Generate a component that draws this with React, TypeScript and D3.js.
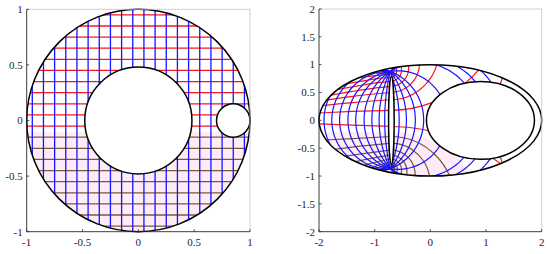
import React from 'react';
import * as d3 from 'd3';

// left panel: grid lines of the circular domain
const gridX = [-0.95, -0.85, -0.75, -0.65, -0.55, -0.45, -0.35, -0.25, -0.15, -0.05, 0.05, 0.15, 0.25, 0.35, 0.45, 0.55, 0.65, 0.75, 0.85, 0.95];
const gridY = [0.95, 0.85, 0.75, 0.65, 0.55, 0.45, 0.35, 0.25, 0.15, 0.05, -0.05, -0.15, -0.25, -0.35, -0.45, -0.55, -0.65, -0.75, -0.85, -0.95];
const splitY = -0.1; // red above, brown + pink below
const outerCircle = { cx: 0, cy: 0, rx: 1, ry: 1 };
const innerCircle = { cx: 0, cy: 0, rx: 0.48, ry: 0.48 };
const smallCircle = { cx: 0.85, cy: 0, rx: 0.15, ry: 0.15 };

// right panel: image domain
const outerEllipse = { cx: 0, cy: 0, rx: 2, ry: 1 };
const holeEllipse = { cx: 0.9, cy: 0, rx: 0.97, ry: 0.7 };
const slitEllipse = { cx: -0.7, cy: 0, rx: 0.05, ry: 0.79 };
const focusX = -0.72;
const focusTop = 0.88;
const focusBottom = -0.87;
// x where each blue curve crosses the line half way between the two foci
const blueCrossings = [-1.91, -1.77, -1.63, -1.48, -1.34, -1.19, -1.05, -0.92, -0.82, -0.56, -0.43, -0.27, -0.12, 0.3, 0.85, 1.05, 1.3];
// y where each red / brown curve meets the right side of the slit
const redCrossings = [-0.11, 0.18, 0.37, 0.5, 0.61, 0.7, 0.77, 0.82, 0.85, 0.87];
const brownCrossings = [-0.29, -0.41, -0.53, -0.62, -0.69, -0.75, -0.79, -0.82, -0.845];
const pinkCrossing = -0.2;
// red / brown curves on the left of the slit, read point by point
const redLeft: [number, number][][] = [
  [[-2.05, -0.06], [-1.4, -0.085], [-0.7, -0.11]],
  [[-2.05, 0.13], [-1.4, 0.16], [-0.7, 0.18]],
  [[-2.0, 0.26], [-1.4, 0.32], [-0.7, 0.37]],
  [[-1.95, 0.35], [-1.4, 0.43], [-0.7, 0.5]],
  [[-1.85, 0.44], [-1.4, 0.52], [-1.0, 0.58], [-0.7, 0.61]],
  [[-1.7, 0.55], [-1.3, 0.62], [-1.0, 0.67], [-0.7, 0.7]],
  [[-1.55, 0.65], [-1.2, 0.71], [-0.95, 0.75], [-0.7, 0.77]],
  [[-1.35, 0.76], [-1.1, 0.79], [-0.9, 0.81], [-0.7, 0.82]],
  [[-1.1, 0.88], [-0.95, 0.85], [-0.7, 0.85]],
  [[-0.9, 0.92], [-0.8, 0.88], [-0.7, 0.87]],
];
const brownLeft: [number, number][][] = [
  [[-2.05, -0.36], [-1.4, -0.33], [-0.7, -0.29]],
  [[-1.95, -0.55], [-1.4, -0.48], [-0.7, -0.41]],
  [[-1.8, -0.68], [-1.3, -0.61], [-0.7, -0.53]],
  [[-1.6, -0.8], [-1.2, -0.71], [-0.7, -0.62]],
  [[-1.4, -0.88], [-1.1, -0.78], [-0.7, -0.69]],
  [[-1.2, -0.93], [-1.0, -0.83], [-0.7, -0.75]],
  [[-1.05, -0.95], [-0.9, -0.84], [-0.7, -0.79]],
  [[-0.92, -0.95], [-0.8, -0.85], [-0.7, -0.82]],
  [[-0.82, -0.93], [-0.75, -0.86], [-0.7, -0.845]],
];
// short pieces crossing the thin gap right of the hole
const redGap: [number, number][] = [[1.24, 0.6], [1.31, 0.82]];
const brownGap: [number, number][] = [[1.24, -0.6], [1.31, -0.82]];
const pinkLeft: [number, number][] = [[-2.1, -0.21], [-1.4, -0.21], [-0.7, -0.2], [-0.7, -1.1], [-2.1, -1.1]];

const leftTicks = [-1, -0.5, 0, 0.5, 1];
const rightXTicks = [-2, -1, 0, 1, 2];
const rightYTicks = [-2, -1.5, -1, -0.5, 0, 0.5, 1, 1.5, 2];

const RED = '#ff1414';
const BROWN = '#7c5a30';
const BLUE = '#1414ff';
const PINK = '#fdecf8';
const AXIS = '#262626';
const FONT = "'Liberation Serif', 'DejaVu Serif', 'Times New Roman', serif";

type Ell = { cx: number; cy: number; rx: number; ry: number };

function ellPath(sx: any, sy: any, e: Ell) {
  const cx = sx(e.cx), cy = sy(e.cy);
  const rx = Math.abs(sx(e.cx + e.rx) - cx), ry = Math.abs(sy(e.cy + e.ry) - cy);
  return `M${cx - rx},${cy}A${rx},${ry} 0 1 0 ${cx + rx},${cy}A${rx},${ry} 0 1 0 ${cx - rx},${cy}Z`;
}

const mid = (focusTop + focusBottom) / 2;
const half = (focusTop - focusBottom) / 2;

// arc of the circle through both foci that passes through (xc, mid)
function focalArc(xc: number) {
  const c = (xc * xc - focusX * focusX - half * half) / (2 * (xc - focusX));
  const r = Math.abs(xc - c);
  const t1 = Math.atan2(half, focusX - c);
  const n = 160;
  const pts: [number, number][] = [];
  for (let i = 0; i <= n; i++) {
    const t = xc > c ? t1 - (2 * t1 * i) / n : t1 + (2 * (Math.PI - t1) * i) / n;
    pts.push([c + r * Math.cos(t), mid + r * Math.sin(t)]);
  }
  return pts;
}

// circle of constant distance ratio to the foci, through (focusX, y1)
function levelCircle(y1: number): Ell {
  const t = y1 - mid;
  let cy, r;
  if (t >= 0) {
    const k = (half - t) / (half + t);
    const t2 = (half * (1 + k)) / (1 - k);
    cy = (t + t2) / 2; r = (t2 - t) / 2;
  } else {
    const k = (half + t) / (half - t);
    const t2 = (-half * (1 + k)) / (1 - k);
    cy = (t + t2) / 2; r = (t - t2) / 2;
  }
  return { cx: focusX, cy: mid + cy, rx: r, ry: r };
}

function Axes({ sx, sy, xt, yt }: any) {
  const [x0, x1] = sx.range();
  const [y0, y1] = sy.range();
  return (
    <g>
      <line x1={x0} y1={y1} x2={x1} y2={y1} stroke="#c4c4c4" strokeWidth={0.8} />
      <line x1={x1} y1={y1} x2={x1} y2={y0} stroke="#c4c4c4" strokeWidth={0.8} />
      <line x1={x0} y1={y0} x2={x1} y2={y0} stroke={AXIS} strokeWidth={0.9} />
      <line x1={x0} y1={y0} x2={x0} y2={y1} stroke={AXIS} strokeWidth={0.9} />
      {xt.map((t: number) => (
        <g key={'x' + t}>
          <line x1={sx(t)} x2={sx(t)} y1={y0} y2={y0 - 2.5} stroke={AXIS} strokeWidth={0.8} />
          <text x={sx(t)} y={y0 + 14} textAnchor="middle" fontFamily={FONT} fontSize={11} fill={AXIS}>
            {t < 0 ? '-' + Math.abs(t) : t}
          </text>
        </g>
      ))}
      {yt.map((t: number) => (
        <g key={'y' + t}>
          <line x1={x0} x2={x0 + 2.5} y1={sy(t)} y2={sy(t)} stroke={AXIS} strokeWidth={0.8} />
          <text x={x0 - 4} y={sy(t) + 3.8} textAnchor="end" fontFamily={FONT} fontSize={11} fill={AXIS}>
            {t < 0 ? '-' + Math.abs(t) : t}
          </text>
        </g>
      ))}
    </g>
  );
}

export default function App() {
  const lx = d3.scaleLinear().domain([-1, 1]).range([26.7, 250]);
  const ly = d3.scaleLinear().domain([-1, 1]).range([231.7, 9.3]);
  const rx = d3.scaleLinear().domain([-2, 2]).range([319, 541.7]);
  const ry = d3.scaleLinear().domain([-2, 2]).range([231.7, 9]);

  const lineL = d3.line<[number, number]>().x(d => lx(d[0])).y(d => ly(d[1]));
  const lineR = d3.line<[number, number]>().x(d => rx(d[0])).y(d => ry(d[1]));
  const smoothR = d3.line<[number, number]>().x(d => rx(d[0])).y(d => ry(d[1])).curve(d3.curveMonotoneX);

  const leftClip = [outerCircle, innerCircle, smallCircle].map(e => ellPath(lx, ly, e)).join('');
  const rightClip = [outerEllipse, holeEllipse, slitEllipse].map(e => ellPath(rx, ry, e)).join('');

  return (
    <svg width={550} height={254} style={{ position: 'absolute', left: 0, top: 0, background: '#fff' }}>
      <defs>
        <clipPath id="clipL"><path d={leftClip} clipRule="evenodd" /></clipPath>
        <clipPath id="clipR"><path d={rightClip} clipRule="evenodd" /></clipPath>
        <clipPath id="clipRS">
          <rect x={rx(slitEllipse.cx)} y={ry(2)} width={rx(2) - rx(slitEllipse.cx)} height={ry(-2) - ry(2)} />
        </clipPath>
      </defs>

      {/* left panel */}
      <g clipPath="url(#clipL)">
        <rect x={lx(-1)} y={ly(splitY)} width={lx(1) - lx(-1)} height={ly(-1) - ly(splitY)} fill={PINK} />
        {gridY.map(y => (
          <path key={'h' + y} d={lineL([[-1, y], [1, y]]) || ''} stroke={y > splitY ? RED : BROWN} strokeWidth={1.3} fill="none" />
        ))}
        {gridX.map(x => (
          <path key={'v' + x} d={lineL([[x, -1], [x, 1]]) || ''} stroke={BLUE} strokeWidth={1.3} fill="none" />
        ))}
      </g>
      {[outerCircle, innerCircle, smallCircle].map((e, i) => (
        <path key={'lb' + i} d={ellPath(lx, ly, e)} fill="none" stroke="#000" strokeWidth={1.5} />
      ))}
      <Axes sx={lx} sy={ly} xt={leftTicks} yt={leftTicks} />

      {/* right panel */}
      <g clipPath="url(#clipR)">
        <path d={(lineR(pinkLeft) || '') + 'Z'} fill={PINK} />
        <g clipPath="url(#clipRS)">
          <path d={ellPath(rx, ry, levelCircle(pinkCrossing))} fill={PINK} />
          {redCrossings.map(c => (
            <path key={'r' + c} d={ellPath(rx, ry, levelCircle(c))} stroke={RED} strokeWidth={1.2} fill="none" />
          ))}
          {brownCrossings.map(c => (
            <path key={'b' + c} d={ellPath(rx, ry, levelCircle(c))} stroke={BROWN} strokeWidth={1.2} fill="none" />
          ))}
        </g>
        {redLeft.map((pts, i) => (
          <path key={'rl' + i} d={smoothR(pts) || ''} stroke={RED} strokeWidth={1.2} fill="none" />
        ))}
        {brownLeft.map((pts, i) => (
          <path key={'bl' + i} d={smoothR(pts) || ''} stroke={BROWN} strokeWidth={1.2} fill="none" />
        ))}
        <path d={lineR(redGap) || ''} stroke={RED} strokeWidth={1.2} fill="none" />
        <path d={lineR(brownGap) || ''} stroke={BROWN} strokeWidth={1.2} fill="none" />
        {blueCrossings.map(c => (
          <path key={'f' + c} d={lineR(focalArc(c)) || ''} stroke={BLUE} strokeWidth={1.2} fill="none" />
        ))}
      </g>
      {[outerEllipse, holeEllipse, slitEllipse].map((e, i) => (
        <path key={'rb' + i} d={ellPath(rx, ry, e)} fill="none" stroke="#000" strokeWidth={1.5} />
      ))}
      <Axes sx={rx} sy={ry} xt={rightXTicks} yt={rightYTicks} />
    </svg>
  );
}
